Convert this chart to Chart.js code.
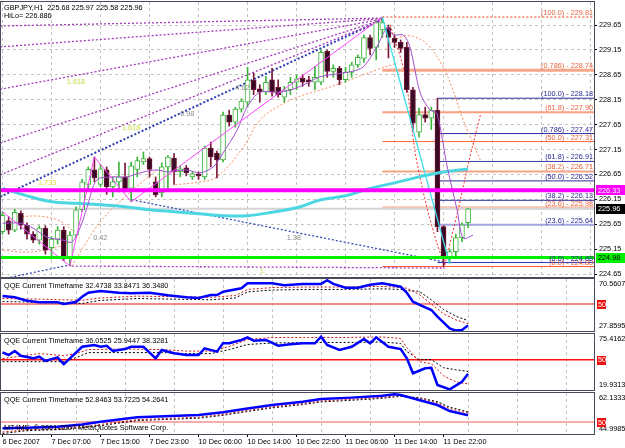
<!DOCTYPE html>
<html><head><meta charset="utf-8">
<script src="https://cdn.jsdelivr.net/npm/chart.js@4.4.1/dist/chart.umd.min.js"></script>
<style>
html,body{margin:0;padding:0;background:#fff;width:625px;height:448px;overflow:hidden}
canvas{position:absolute;left:0;display:block}
</style></head><body>
<canvas id="cMain" width="625" height="278" style="top:0px"></canvas>
<canvas id="cQ1" width="625" height="54" style="top:278px"></canvas>
<canvas id="cQ2" width="625" height="60" style="top:332px"></canvas>
<canvas id="cQ3" width="625" height="56" style="top:392px"></canvas>
<script>
// ---------- data ----------
const symbol = 'GBPJPY,H1';
const hiLo = 226.886;
const xTickBars = [0,8,16,24,32,40,48,56,64,72];
const xTickLabels = ['6 Dec 2007','7 Dec 07:00','7 Dec 15:00','7 Dec 23:00','10 Dec 06:00','10 Dec 14:00','10 Dec 22:00','11 Dec 06:00','11 Dec 14:00','11 Dec 22:00'];
const gridBars = [4,12,20,28,36,44,52,60,68,76,84,92];
const priceTicks = [224.65,225.15,225.65,226.15,226.65,227.15,227.65,228.15,228.65,229.15,229.65];

const opens  = [225.50,225.72,225.53,225.87,225.63,225.45,225.33,225.57,225.18,225.35,225.53,224.99,225.43,225.94,226.45,226.74,226.45,226.74,226.40,226.50,226.60,226.37,226.75,226.90,226.97,226.50,226.28,226.80,226.98,226.70,226.78,226.60,226.66,226.60,227.18,227.08,226.94,227.84,227.70,227.96,228.10,228.54,228.37,228.30,228.55,228.40,228.20,228.35,228.50,228.58,228.55,228.50,228.50,229.12,228.72,228.78,228.55,228.70,228.85,228.98,229.40,229.20,229.55,229.60,229.38,229.30,229.20,228.35,227.50,227.85,227.78,227.94,225.60,224.98,225.10,225.38,225.68];
const highs  = [225.90,225.80,225.95,225.92,225.68,225.50,225.62,225.62,225.40,225.60,225.60,225.50,226.00,226.55,226.80,227.00,226.85,226.80,226.60,226.90,226.88,226.90,227.00,227.10,227.00,226.60,226.88,227.03,227.07,226.82,226.83,226.70,226.70,227.22,227.30,227.12,227.90,227.94,228.00,228.17,228.80,228.68,228.45,228.62,228.78,228.55,228.42,228.60,228.65,228.65,228.62,228.82,229.15,229.15,228.85,228.82,228.80,228.90,229.05,229.45,229.45,229.75,229.81,229.65,229.45,229.35,229.30,228.40,227.98,228.00,228.00,228.18,225.62,225.15,225.45,225.68,225.97];
const lows   = [225.45,225.45,225.50,225.55,225.35,225.28,225.25,225.05,224.95,225.25,224.92,224.81,225.38,225.90,226.35,226.50,226.40,226.25,226.20,226.30,226.30,226.10,226.60,226.85,226.60,226.20,226.20,226.35,226.45,226.60,226.62,226.55,226.55,226.55,226.80,226.58,226.90,227.62,227.60,227.90,228.00,228.25,228.10,228.25,228.22,228.20,228.10,228.25,228.35,228.42,228.42,228.35,228.45,228.60,228.60,228.45,228.50,228.60,228.80,228.90,229.05,228.95,229.40,228.99,229.20,229.10,228.30,227.54,227.40,227.70,227.55,225.50,224.80,224.88,225.00,225.30,225.58];
const closes = [225.83,225.53,225.89,225.63,225.45,225.33,225.57,225.13,225.35,225.53,224.99,225.43,225.94,226.50,226.75,226.58,226.76,226.40,226.50,226.60,226.34,226.82,226.93,226.97,226.75,226.24,226.80,227.00,226.70,226.76,226.68,226.66,226.62,227.18,227.00,226.94,227.84,227.70,227.96,228.12,228.55,228.35,228.30,228.50,228.30,228.25,228.35,228.50,228.57,228.50,228.50,228.60,229.10,228.72,228.78,228.55,228.70,228.85,229.00,229.40,229.18,229.70,229.70,229.40,229.30,229.18,228.35,227.68,227.85,227.78,227.94,225.60,225.00,225.10,225.38,225.64,225.96];

const maCyanBars = [0,4,8,12,16,20,24,28,32,36,40,44,48,52,56,60,64,68,72,76];
const maCyanVals = [226.37,226.22,226.10,226.07,226.04,226.00,225.94,225.90,225.86,225.82,225.82,225.89,225.98,226.14,226.22,226.37,226.48,226.60,226.70,226.76];
const maPurpleBars = [0,2.9,5,7.3,9.9,11.3,12.7,13.8,15.4,18,20.3,22.4,25.2,26.9,30.1,32.2,34.4,36,38.3,39.9,42,44.8,46.9,49.7,51.8,56.7,58.9,61.1,62.8,63.8,65.4,66.5,68.2,69.8,70.9,72.6,74.2,75.2,76.8];
const maPurpleVals = [225.67,225.67,225.57,225.39,225.33,225.29,225.59,225.99,226.54,226.60,226.60,226.68,226.74,226.70,226.74,226.68,226.80,227.08,227.54,228.00,228.30,228.30,228.34,228.48,228.61,228.71,228.81,229.21,229.59,229.45,229.45,229.21,228.28,227.94,227.88,226.80,225.94,225.37,225.43];

const hLinePrices = [226.33, 224.98];
const bidPrice = 225.96;

const fibTags = ['100.0','0.786','61.8','50.0','38.2','23.6','0.0'];
const fibOrangeLevels = [229.81,228.74,227.90,227.31,226.71,225.98,224.80];
const fibBlueLevels   = [228.18,227.47,226.91,226.52,226.13,225.64,224.88];
const fibOrangeStartBar = 62;
const fibBlueStartBar = 71;

const zigBars = [0,11,15,21,62];
const zigPrices = [225.90,224.81,227.00,226.10,229.81];
const dropBars = [62,73];
const dropPrices = [229.81,224.85];

const fanStartBar = -0.4, fanEndBar = 62.1;
const fanStartPurple = [229.63,229.21,228.36,227.28,226.64];
const fanEndPurple = [229.79,229.78,229.77,229.76,229.75];
const fanStartBlue = [226.20];
const fanEndBlue = [229.76];

const lowLineBars = [[11.3,72.2],[21.1,72.2],[0,11.3]];
const lowLinePrices = [[224.81,224.77],[226.14,224.89],[224.55,224.84]];

const env1Bars = [0.1,2.9,6.1,9.1,11.0,12.7];
const env1Prices = [225.69,225.79,225.81,225.73,225.57,225.37];
const env2Bars = [0.1,3.7,6.9,9.4,11.3];
const env2Prices = [225.13,225.09,225.13,225.21,225.33];
const env3Bars = [11.3,15.9,20.8,25.2];
const env3Prices = [224.81,225.69,226.29,226.74];
const env4Bars = [28.2,32.2,35,39.3,42,44.8,48.1,51.8,55.6,61.1,64.4];
const env4Prices = [226.44,226.50,226.60,227.20,227.74,228.00,228.20,228.34,228.50,228.75,228.89];
const env5Bars = [62.4,64.1,65.7,67.3,69.3,71.9,73.5,75.2,76.8,78.0];
const env5Prices = [229.15,229.35,229.43,229.41,229.27,228.81,228.35,227.74,227.28,226.94];
const red1Bars = [63.3,65.7,67.3,69,70.9,72.2];
const red1Prices = [229.65,228.65,227.14,226.13,225.27,224.83];
const red2Bars = [72.2,74.3,76.3,78];
const red2Prices = [224.83,225.90,227.00,227.84];

const annoText = ['1.618','1.733','1.618','4.62','0.98','0.42','1.38','1.'];
const annoBar = [10.5,5.8,19.5,38,29,14.8,46.4,42];
const annoPrice = [228.50,226.48,227.58,228.38,227.86,225.37,225.37,224.71];

// QQE panels
const q1Bars = [0,2,4,6,9,10,12,13,14,16,19,21,24,27,30,32,34,35,36,39,40,44,46,49,52,53,54,56,58,60,62,65,66,67,69,70,71,73,74,75,76];
const q1Blue = [56.6,55.5,52.7,51.4,51.4,50.0,51.7,56.0,59.3,60.7,59.3,58.8,59.3,57.2,55.5,55.0,57.4,57.4,60.1,62.9,67.0,67.0,65.4,66.5,66.5,69.5,66.5,63.4,63.4,65.9,67.0,64.2,59.3,51.9,47.3,45.1,39.6,30.0,28.2,28.6,32.4738];
const q1TrailBars = [0,6,10,13,16,22,28,34,38,40,44,50,56,62,65,66,68,70,72,74,76];
const q1Red   = [54.5,54.0,53.5,53.0,55.0,56.5,56.0,55.5,57.0,62.0,63.5,64.0,64.0,64.5,63.5,63.0,58.0,50.0,42.0,37.0,33.8471];
const q1Black = [52.0,51.5,51.0,50.5,53.0,54.5,54.0,53.5,55.0,60.0,61.5,62.0,62.0,62.5,62.0,61.0,60.5,53.5,45.5,40.0,36.3480];
const q1Range = [27.8595, 70.5607];

const q2Bars = [0,1,2,3,5,6,7,9,10,11,13,15,16,17,18,20,21,23,25,26,28,30,32,33,35,36,37,39,40,41,43,45,47,49,51,52,53,55,57,59,60,61,63,65,66,67,69,70,71,73,75,76];
const q2Blue = [57.3,54.6,58.6,53.9,51.3,52.9,48.7,52.3,45.4,51.3,62.8,64.5,62.8,63.8,58.6,60.5,62.8,62.8,51.3,59.6,56.3,54.6,54.6,61.2,57.9,66.2,66.2,69.5,72.1,68.8,69.5,63.8,65.2,66.2,66.2,72.8,64.5,59.6,62.8,70.5,66.2,72.1,62.8,60.5,51.3,36.5,41.4,42.0,24.9,20.5,28.1,36.0525];
const q2TrailBars = [0,6,10,12,14,20,26,30,34,37,40,44,50,56,62,65,66,68,70,72,74,76];
const q2Red   = [51.0,56.0,54.0,56.0,60.0,60.5,60.0,58.5,58.5,63.0,70.0,72.0,72.0,72.0,72.5,71.0,62.0,48.0,46.0,34.0,28.0,25.9447];
const q2Black = [48.0,48.0,48.0,52.0,57.0,57.0,57.0,56.0,56.0,60.0,65.0,66.5,67.0,67.0,67.5,66.0,58.0,50.0,50.0,42.0,40.0,38.3281];
const q2Range = [19.9313, 75.4162];

const q3Bars = [0,4,9,13,16,22,32,36,40,44,49,52,57,62,64,65,68,71,73,76];
const q3Blue  = [47.4,47.6,48.0,49.0,50.1,52.0,52.9,54.1,55.7,57.1,58.5,59.6,60.2,61.0,61.6,61.3,59.2,57.1,54.6,52.8463];
const q3Red   = [45.8,46.8,47.2,48.0,49.0,51.0,52.0,53.2,54.8,56.3,57.7,58.8,59.5,60.3,60.9,61.0,59.9,58.0,55.6,53.7225];
const q3Black = [45.2,46.4,46.8,47.6,48.5,50.6,51.6,52.8,54.4,55.9,57.3,58.4,59.1,59.9,60.5,60.7,60.2,58.5,56.2,54.2641];
const q3Range = [44.9985, 62.1333];

// ---------- helpers ----------
const FONT = '"Liberation Sans", Arial, sans-serif';
const FS = 7.3;
const xMin = -0.245, xMax = 96.555;
const pts = (xs, ys) => xs.map((x, i) => ({x, y: ys[i]}));
function lineDS(xs, ys, color, width, dash, order, tension) {
  return {type:'line', data: pts(xs, ys), borderColor: color, borderWidth: width,
    borderDash: dash || [], pointRadius: 0, pointHoverRadius: 0, fill: false,
    tension: tension || 0, order: order, xAxisID: 'x', yAxisID: 'y'};
}
function xScales(showLabels) {
  return {
    x: {type:'linear', min:xMin, max:xMax, offset:false, display:showLabels, position:'bottom',
        grid:{display:true, drawOnChartArea:false, drawTicks:true, tickLength:3, tickColor:'#000'},
        border:{display:false},
        ticks:{autoSkip:false, maxRotation:0, minRotation:0, align:'start', padding:1, color:'#000',
               font:{family:FONT, size:FS}, callback:(v, i) => xTickLabels[i]},
        afterBuildTicks: s => { s.ticks = xTickBars.map(v => ({value:v})); },
        afterFit: s => { s.height = showLabels ? 14 : 0; s.paddingLeft = 0; s.paddingRight = 0; }},
    xg: {type:'linear', min:xMin, max:xMax, offset:false, position:'bottom',
        grid:{color:'#c4c4c4', drawTicks:false, lineWidth:1},
        border:{display:false, dash:[3,3]},
        ticks:{display:false},
        afterBuildTicks: s => { s.ticks = gridBars.map(v => ({value:v})); },
        afterFit: s => { s.height = 0; s.paddingLeft = 0; s.paddingRight = 0; }}
  };
}
const framePlugin = {
  id:'frame',
  afterDraw(chart) {
    const a = chart.chartArea, c = chart.ctx;
    c.save(); c.strokeStyle = '#4a4a5a'; c.lineWidth = 1;
    c.strokeRect(Math.round(a.left) - 0.5, Math.round(a.top) - 0.5, Math.round(a.right - a.left) + 1, Math.round(a.bottom - a.top) + 1);
    c.restore();
  }
};
function boxLabel(c, x, y, text, bg, fg, w) {
  c.fillStyle = bg; c.fillRect(x, Math.round(y) - 5, w, 10);
  c.fillStyle = fg; c.textAlign = 'left'; c.textBaseline = 'middle';
  c.fillText(text, x + 2, y + 0.5);
}

// ---------- main chart ----------
const N = opens.length;
const isBull = i => closes[i] >= opens[i];
const idx = opens.map((_, i) => i);
const mainDS = [];
const oStyle = {w:[1,3,2,1,2,3,1], c:['#ff3a1a','#f7a68a','#f7a080','#ff6a3c','#f6a488','#f9c2ae','#ff5a30'], d:[[2,2],[],[],[],[],[],[]]};
fibOrangeLevels.forEach((L, i) => mainDS.push(lineDS([fibOrangeStartBar, xMax + 1], [L, L], oStyle.c[i], oStyle.w[i], oStyle.d[i], 20)));
const bStyle = {w:[1,1,1,1,1,2,1], c:['#2c2c9c','#2c2c9c','#3a3aa8','#2c2c9c','#2c2c9c','#a4a4dc','#3030c0']};
fibBlueLevels.forEach((L, i) => mainDS.push(lineDS([fibBlueStartBar, xMax + 1], [L, L], bStyle.c[i], bStyle.w[i], [], 19)));
mainDS.push(lineDS([xMin - 1, xMax + 1], [bidPrice, bidPrice], '#d4d4d4', 2, [], 18));
// fan lines
fanStartPurple.forEach((p, i) => mainDS.push(lineDS([fanStartBar, fanEndBar], [p, fanEndPurple[i]], '#a43cbc', 1.3, [2,2], 16)));
fanStartBlue.forEach((p, i) => mainDS.push(lineDS([fanStartBar, fanEndBar], [p, fanEndBlue[i]], '#2b3cb4', 2, [2,2], 16)));
const lowCols = ['#a43cbc', '#3a4ab8', '#3a4ab8'];
lowLineBars.forEach((b, i) => mainDS.push(lineDS(b, lowLinePrices[i], lowCols[i], 1.3, [2,2], 16)));
// envelopes
mainDS.push(lineDS(env1Bars, env1Prices, '#f48a5c', 1, [2,2], 15, 0.4));
mainDS.push(lineDS(env2Bars, env2Prices, '#f48a5c', 1, [2,2], 15, 0.4));
mainDS.push(lineDS(env3Bars, env3Prices, '#f48a5c', 1, [2,2], 15, 0.3));
mainDS.push(lineDS(env4Bars, env4Prices, '#f48a5c', 1, [2,2], 15, 0.4));
mainDS.push(lineDS(env5Bars, env5Prices, '#f48a5c', 1, [2,2], 15, 0.4));
mainDS.push(lineDS(red1Bars, red1Prices, '#ff2a2a', 1, [2,2], 15, 0.3));
mainDS.push(lineDS(red2Bars, red2Prices, '#ff2a2a', 1, [2,2], 15, 0.3));
// candles
mainDS.push({type:'bar', order:12, grouped:false, barThickness:1, xAxisID:'x', yAxisID:'y',
  data: idx.map(i => ({x:i, y:[lows[i], highs[i]]})),
  backgroundColor: idx.map(i => isBull(i) ? '#3cb43c' : '#7a1838'), borderWidth:0});
mainDS.push({type:'bar', order:11, grouped:false, barThickness:5, xAxisID:'x', yAxisID:'y',
  data: idx.map(i => ({x:i, y:[opens[i], closes[i]]})), minBarLength:1,
  backgroundColor: idx.map(i => isBull(i) ? '#ffffff' : '#3a0a24'),
  borderColor: idx.map(i => isBull(i) ? '#3cb43c' : '#6e1636'), borderWidth:1, borderSkipped:false});
// indicators
mainDS.push(lineDS(maCyanBars, maCyanVals, '#4cd6e2', 3, [], 8, 0.4));
mainDS.push(lineDS(maPurpleBars, maPurpleVals, '#a44ed2', 1, [], 6, 0.3));
mainDS.push(lineDS(zigBars, zigPrices, '#ff44ff', 1, [], 5));
mainDS.push(lineDS(dropBars, dropPrices, '#3ee0e8', 1.3, [], 5));
mainDS.push(lineDS([xMin - 1, xMax + 1], [hLinePrices[0], hLinePrices[0]], '#ff00ff', 4, [], 3));
mainDS.push(lineDS([xMin - 1, xMax + 1], [hLinePrices[1], hLinePrices[1]], '#00f000', 3, [], 3));

const annoCols = ['#c8dc40','#e2e23c','#c8dc40','#8a8a8a','#8a8a8a','#8a8a8a','#8a8a8a','#c8dc40'];
const mainOverlay = {
  id:'mainOverlay',
  afterDatasetsDraw(chart) {
    const c = chart.ctx, x = chart.scales.x, y = chart.scales.y, a = chart.chartArea;
    c.save();
    c.beginPath(); c.rect(a.left, a.top, a.right - a.left, a.bottom - a.top); c.clip();
    c.font = FS + 'px ' + FONT;
    c.textAlign = 'left'; c.textBaseline = 'middle';
    annoText.forEach((t, i) => { c.fillStyle = annoCols[i]; c.fillText(t, x.getPixelForValue(annoBar[i]), y.getPixelForValue(annoPrice[i])); });
    c.textAlign = 'right'; c.textBaseline = 'alphabetic';
    fibOrangeLevels.forEach((L, i) => { c.fillStyle = '#e8643e'; c.fillText('(' + fibTags[i] + ') - ' + L.toFixed(2), a.right - 1, y.getPixelForValue(L) - 2); });
    fibBlueLevels.forEach((L, i) => { c.fillStyle = '#2a2a96'; c.fillText('(' + fibTags[i] + ') - ' + L.toFixed(2), a.right - 1, y.getPixelForValue(L) - 2); });
    c.textAlign = 'left'; c.textBaseline = 'middle'; c.fillStyle = '#000';
    const L = N - 1;
    c.fillText(symbol + '  ' + opens[L].toFixed(2) + ' ' + highs[L].toFixed(2) + ' ' + lows[L].toFixed(2) + ' ' + closes[L].toFixed(2), 4, 8);
    c.fillText('HiLo= ' + hiLo.toFixed(3), 4, 16);
    c.restore();
  },
  afterDraw(chart) {
    const c = chart.ctx, y = chart.scales.y, a = chart.chartArea;
    c.save(); c.font = FS + 'px ' + FONT;
    boxLabel(c, a.right + 2, y.getPixelForValue(hLinePrices[0]), hLinePrices[0].toFixed(2), '#ff00ff', '#ffffff', 29);
    boxLabel(c, a.right + 2, y.getPixelForValue(closes[N - 1]), closes[N - 1].toFixed(2), '#000000', '#ffffff', 29);
    boxLabel(c, a.right + 2, y.getPixelForValue(hLinePrices[1]), hLinePrices[1].toFixed(2), '#00f000', '#000000', 29);
    c.restore();
  }
};

new Chart(document.getElementById('cMain'), {
  type:'bar',
  data:{datasets: mainDS},
  options:{
    responsive:false, animation:false, events:[],
    layout:{padding:{left:1, top:2, right:0, bottom:1}, autoPadding:false},
    plugins:{legend:{display:false}, tooltip:{enabled:false}},
    scales: Object.assign(xScales(false), {
      y:{type:'linear', position:'right', min:224.59, max:230.112,
         grid:{color:'#c4c4c4', drawTicks:true, tickLength:3, tickColor:'#000', tickBorderDash:[]},
         border:{display:false, dash:[3,3]},
         ticks:{color:'#000', font:{family:FONT, size:FS}, padding:2, callback:v => Number(v).toFixed(2)},
         afterBuildTicks: s => { s.ticks = priceTicks.map(v => ({value:v})); },
         afterFit: s => { s.width = 31; s.paddingTop = 0; s.paddingBottom = 0; }}
    })
  },
  plugins:[mainOverlay, framePlugin]
});

// ---------- QQE panels ----------
function makeQQE(id, bars, blue, trailBars, red, black, range, areaH, pad, levelColor, showX, extraText) {
  const [mn, mx] = range;
  const perPx = (mx - mn) / areaH;
  const ds = [
    lineDS([xMin - 1, xMax + 1], [50, 50], levelColor, 1.5, [], 10),
    lineDS(trailBars, black, '#000000', 1, [2,2], 8),
    lineDS(trailBars, red, '#cc1010', 1, [2,2], 7),
    lineDS(bars, blue, '#0000ff', 2.5, [], 5)
  ];
  const overlay = {
    id:'qOverlay' + id,
    afterDatasetsDraw(chart) {
      const c = chart.ctx, a = chart.chartArea;
      c.save(); c.font = FS + 'px ' + FONT; c.fillStyle = '#000'; c.textAlign = 'left'; c.textBaseline = 'middle';
      c.fillText('QQE Current Timeframe ' + blue[blue.length - 1].toFixed(4) + ' ' + red[red.length - 1].toFixed(4) + ' ' + black[black.length - 1].toFixed(4), 4, a.top + 7);
      if (extraText) c.fillText(extraText, 4, a.top + 35);
      c.restore();
    },
    afterDraw(chart) {
      const c = chart.ctx, a = chart.chartArea, y = chart.scales.y;
      c.save(); c.font = FS + 'px ' + FONT;
      const yy = y.getPixelForValue(50);
      c.fillStyle = '#ee1111'; c.fillRect(a.right + 3, Math.round(yy) - 4, 9, 9);
      c.fillStyle = '#fff'; c.textAlign = 'left'; c.textBaseline = 'middle'; c.fillText('50', a.right + 4, yy + 0.5);
      c.restore();
    }
  };
  const scales = Object.assign(xScales(showX), {
    y:{type:'linear', position:'right', min:mn, max:mx,
       grid:{display:false, drawTicks:false}, border:{display:false},
       ticks:{color:'#000', font:{family:FONT, size:FS}, padding:5,
              callback:(v, i) => (i === 0 ? mn : mx).toFixed(4)},
       afterBuildTicks: s => { s.ticks = [{value: mn + 5 * perPx}, {value: mx - 5 * perPx}]; },
       afterFit: s => { s.width = 31; s.paddingTop = 0; s.paddingBottom = 0; }}
  });
  new Chart(document.getElementById(id), {
    type:'line',
    data:{datasets: ds},
    options:{responsive:false, animation:false, events:[],
      layout:{padding:pad, autoPadding:false},
      plugins:{legend:{display:false}, tooltip:{enabled:false}},
      scales},
    plugins:[overlay, framePlugin]
  });
}
makeQQE('cQ1', q1Bars, q1Blue, q1TrailBars, q1Red, q1Black, q1Range, 52, {left:1, top:1, right:0, bottom:1}, '#f46060', false, null);
makeQQE('cQ2', q2Bars, q2Blue, q2TrailBars, q2Red, q2Black, q2Range, 56, {left:1, top:2, right:0, bottom:2}, '#ff1010', false, null);
makeQQE('cQ3', q3Bars, q3Blue, q3Bars, q3Red, q3Black, q3Range, 41, {left:1, top:1, right:0, bottom:0}, '#f49090', true, 'MT4ME, \u00a9 2001-2007 MetaQuotes Software Corp.');
</script>
</body></html>
